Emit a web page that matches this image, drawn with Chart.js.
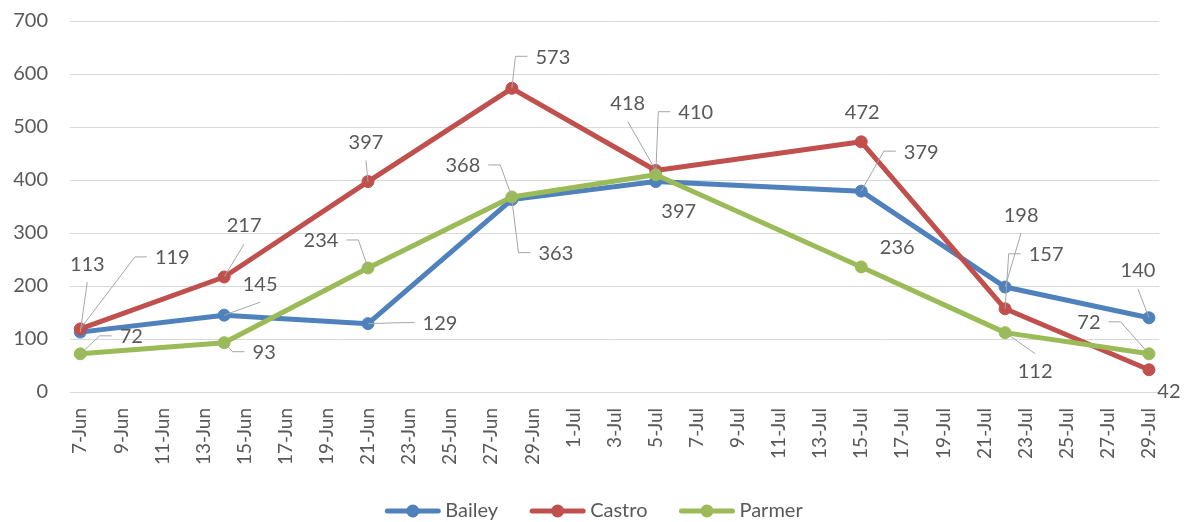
<!DOCTYPE html>
<html>
<head>
<meta charset="utf-8">
<script src="https://cdn.jsdelivr.net/npm/chart.js@4"></script>
<style>
  body { margin: 0; background: #fff; }
  #wrap { width: 1188px; height: 522px; }
</style>
</head>
<body>
<div id="wrap"><canvas id="chart" width="1188" height="522"></canvas></div>
<script>
// Data
const seriesNames = ['Bailey', 'Castro', 'Parmer'];
const pointDates = ['7-Jun', '14-Jun', '21-Jun', '28-Jun', '5-Jul', '15-Jul', '22-Jul', '29-Jul'];
const bailey = [113, 145, 129, 363, 397, 379, 198, 140];
const castro = [119, 217, 397, 573, 418, 472, 157, 42];
const parmer = [72, 93, 234, 368, 410, 236, 112, 72];
const yTicks = [0, 100, 200, 300, 400, 500, 600, 700];

const colors = ['#4F81BD', '#C0504D', '#9BBB59'];
const textColor = '#595959';
const fontFamily = 'Lato, "Open Sans", sans-serif';

// Daily date axis from 7-Jun to 29-Jul
const months = ['Jan', 'Feb', 'Mar', 'Apr', 'May', 'Jun', 'Jul', 'Aug', 'Sep', 'Oct', 'Nov', 'Dec'];
const axisDays = [];
for (let d = new Date(2020, 5, 7); d <= new Date(2020, 6, 29); d.setDate(d.getDate() + 1)) {
    axisDays.push(d.getDate() + '-' + months[d.getMonth()]);
}

// Data label placement: [dx, dy, leader] relative to the point (leader: 'side', 'vert' or '')
const labelPlacement = [
    [[7, -68, 'vert'], [36, -31, 'vert'], [72, 0, 'side'], [44, 54, 'side'], [23, 30, ''], [60, -39, 'side'], [16, -72, 'vert'], [-11, -47, 'vert']],
    [[92, -71, 'side'], [20, -51, 'vert'], [-2, -39, 'vert'], [41, -31, 'side'], [-28, -67, 'vert'], [1, -29, ''], [41, -54, 'side'], [20, 22, '']],
    [[51, -17, 'side'], [40, 10, 'side'], [-47, -27, 'side'], [-49, -31, 'side'], [40, -62, 'side'], [36, -19, ''], [30, 39, 'vert'], [-60, -31, 'side']]
];

const allValues = [bailey, castro, parmer];

const datasets = allValues.map((vals, s) => ({
    label: seriesNames[s],
    data: pointDates.map((d, i) => ({ x: d, y: vals[i] })),
    borderColor: colors[s],
    backgroundColor: colors[s],
    borderWidth: 5,
    borderJoinStyle: 'round',
    borderCapStyle: 'round',
    pointRadius: 6,
    pointBorderWidth: 1,
    pointBackgroundColor: colors[s],
    pointBorderColor: colors[s],
    tension: 0,
    order: 2 - s
}));

// Draws value labels with Excel style leader lines
const dataLabels = {
    id: 'dataLabels',
    afterDatasetsDraw(chart) {
        const ctx = chart.ctx;
        ctx.save();
        ctx.font = '20px ' + fontFamily;
        chart.data.datasets.forEach((ds, s) => {
            const meta = chart.getDatasetMeta(s);
            meta.data.forEach((pt, i) => {
                const [dx, dy, leader] = labelPlacement[s][i];
                const text = String(allValues[s][i]);
                const cx = pt.x + dx, cy = pt.y + dy;
                const w = ctx.measureText(text).width;
                ctx.strokeStyle = '#A6A6A6';
                ctx.lineWidth = 1;
                if (leader === 'side') {
                    const dir = dx > 0 ? -1 : 1;
                    const x0 = cx + dir * (w / 2 + 8);
                    const x1 = x0 + dir * 12;
                    ctx.beginPath();
                    ctx.moveTo(x0, cy - 1);
                    ctx.lineTo(x1, cy - 1);
                    ctx.lineTo(pt.x, pt.y);
                    ctx.stroke();
                } else if (leader === 'vert') {
                    const dir = dy < 0 ? 1 : -1;
                    ctx.beginPath();
                    ctx.moveTo(cx, cy + dir * 18);
                    ctx.lineTo(pt.x, pt.y);
                    ctx.stroke();
                }
                ctx.fillStyle = textColor;
                ctx.textAlign = 'center';
                ctx.textBaseline = 'middle';
                ctx.fillText(text, cx, cy);
            });
        });
        ctx.restore();
    }
};

// Legend with line + marker symbols, centered at the bottom
const lineLegend = {
    id: 'lineLegend',
    afterDraw(chart) {
        const ctx = chart.ctx;
        ctx.save();
        ctx.font = '20px ' + fontFamily;
        const lineW = 55, gap = 5, spacing = 32;
        const widths = seriesNames.map(n => lineW + gap + ctx.measureText(n).width);
        const total = widths.reduce((a, b) => a + b, 0) + spacing * (widths.length - 1);
        let x = chart.width / 2 - total / 2;
        const y = 511;
        seriesNames.forEach((name, s) => {
            ctx.strokeStyle = colors[s];
            ctx.lineWidth = 5;
            ctx.lineCap = 'round';
            ctx.beginPath();
            ctx.moveTo(x + 2, y);
            ctx.lineTo(x + lineW - 2, y);
            ctx.stroke();
            ctx.fillStyle = colors[s];
            ctx.beginPath();
            ctx.arc(x + lineW / 2, y, 6.5, 0, Math.PI * 2);
            ctx.fill();
            ctx.fillStyle = textColor;
            ctx.textAlign = 'left';
            ctx.textBaseline = 'middle';
            ctx.fillText(name, x + lineW + gap, y);
            x += widths[s] + spacing;
        });
        ctx.restore();
    }
};

new Chart(document.getElementById('chart'), {
    type: 'line',
    data: { labels: axisDays, datasets: datasets },
    options: {
        responsive: false,
        animation: false,
        devicePixelRatio: 1,
        layout: { padding: { top: 21, right: 25, bottom: 0, left: 0 } },
        plugins: {
            legend: { display: false },
            tooltip: { enabled: false }
        },
        scales: {
            x: {
                type: 'category',
                offset: true,
                grid: { display: false, drawTicks: false },
                border: { display: false },
                ticks: {
                    autoSkip: false,
                    minRotation: 90,
                    maxRotation: 90,
                    padding: 16,
                    color: textColor,
                    font: { family: fontFamily, size: 19 },
                    callback: (val, idx) => idx % 2 === 0 ? axisDays[idx] : ''
                },
                afterFit: scale => { scale.height = 130; }
            },
            y: {
                min: 0,
                max: 700,
                afterBuildTicks: scale => { scale.ticks = yTicks.map(v => ({ value: v })); },
                grid: { color: '#D9D9D9', lineWidth: 1, drawTicks: false },
                border: { display: false },
                ticks: {
                    padding: 22,
                    color: textColor,
                    font: { family: fontFamily, size: 20 }
                },
                afterFit: scale => {
                    scale.width = 70;
                    scale.paddingTop = 0;
                    scale.paddingBottom = 0;
                }
            }
        }
    },
    plugins: [dataLabels, lineLegend]
});
</script>
</body>
</html>
